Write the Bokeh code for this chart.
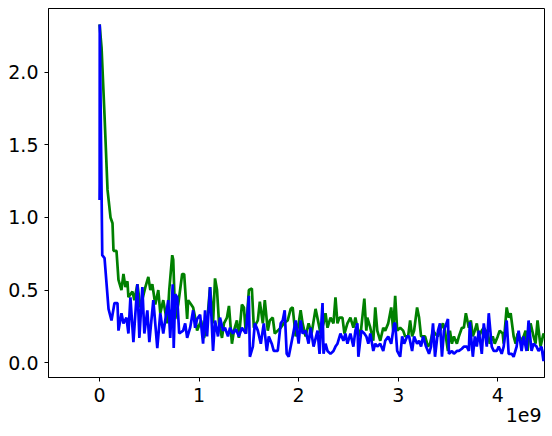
from bokeh.plotting import figure
from bokeh.models import Range1d, FixedTicker, NumeralTickFormatter, CustomJSTickFormatter, Title
from bokeh.embed import file_html
from bokeh.resources import INLINE

# x positions in billions of steps
green_x = [0, 0.02, 0.05, 0.08, 0.11, 0.13, 0.14, 0.17, 0.19, 0.22, 0.24, 0.26, 0.28, 0.29, 0.33, 0.35,
           0.38, 0.41, 0.46, 0.49, 0.51, 0.53, 0.56, 0.59, 0.61, 0.64, 0.68, 0.70, 0.73, 0.74, 0.76, 0.79,
           0.83, 0.85, 0.88, 0.89, 0.92, 0.94, 0.96, 0.98, 1.02, 1.05, 1.08, 1.11, 1.14, 1.16, 1.18, 1.20,
           1.23, 1.25, 1.28, 1.30, 1.33, 1.35, 1.38, 1.40, 1.43, 1.45, 1.47, 1.50, 1.53, 1.55, 1.59, 1.61,
           1.64, 1.66, 1.69, 1.71, 1.74, 1.76, 1.79, 1.82, 1.85, 1.89, 1.92, 1.94, 1.97, 2.00, 2.02, 2.04,
           2.07, 2.10, 2.13, 2.17, 2.20, 2.22, 2.25, 2.27, 2.29, 2.32, 2.35, 2.37, 2.39, 2.41, 2.44, 2.46,
           2.49, 2.52, 2.55, 2.57, 2.59, 2.62, 2.66, 2.68, 2.69, 2.72, 2.75, 2.77, 2.79, 2.82, 2.85, 2.87,
           2.90, 2.93, 2.95, 2.97, 2.99, 3.02, 3.05, 3.07, 3.10, 3.12, 3.14, 3.16, 3.19, 3.21, 3.23, 3.25,
           3.27, 3.30, 3.32, 3.35, 3.37, 3.40, 3.42, 3.45, 3.47, 3.50, 3.52, 3.54, 3.56, 3.59, 3.61, 3.64,
           3.66, 3.68, 3.71, 3.73, 3.75, 3.77, 3.79, 3.81, 3.84, 3.86, 3.90, 3.92, 3.95, 3.97, 4.00, 4.02,
           4.05, 4.06, 4.09, 4.11, 4.13, 4.16, 4.18, 4.20, 4.23, 4.26, 4.28, 4.30, 4.33, 4.36, 4.38, 4.40,
           4.43, 4.46, 4.49]
green_y = [2.33, 2.17, 1.70, 1.19, 1.00, 0.96, 0.77, 0.77, 0.57, 0.50, 0.61, 0.52, 0.56, 0.45, 0.49, 0.43,
           0.54, 0.38, 0.52, 0.59, 0.50, 0.54, 0.40, 0.50, 0.34, 0.43, 0.27, 0.50, 0.74, 0.71, 0.30, 0.40,
           0.61, 0.61, 0.30, 0.43, 0.40, 0.38, 0.31, 0.22, 0.29, 0.17, 0.27, 0.52, 0.27, 0.58, 0.50, 0.27,
           0.17, 0.27, 0.31, 0.39, 0.13, 0.22, 0.29, 0.17, 0.40, 0.38, 0.20, 0.50, 0.51, 0.24, 0.29, 0.42,
           0.27, 0.43, 0.22, 0.29, 0.31, 0.20, 0.22, 0.24, 0.27, 0.29, 0.37, 0.38, 0.18, 0.27, 0.36, 0.27,
           0.18, 0.27, 0.20, 0.37, 0.27, 0.20, 0.27, 0.34, 0.24, 0.31, 0.27, 0.45, 0.27, 0.31, 0.31, 0.20,
           0.27, 0.31, 0.24, 0.31, 0.24, 0.18, 0.44, 0.22, 0.31, 0.24, 0.15, 0.38, 0.22, 0.15, 0.24, 0.22,
           0.27, 0.38, 0.22, 0.46, 0.22, 0.24, 0.22, 0.18, 0.18, 0.29, 0.18, 0.22, 0.38, 0.31, 0.18, 0.18,
           0.18, 0.11, 0.13, 0.22, 0.20, 0.18, 0.22, 0.27, 0.22, 0.08, 0.22, 0.13, 0.18, 0.13, 0.18, 0.24,
           0.24, 0.34, 0.24, 0.29, 0.18, 0.22, 0.27, 0.18, 0.22, 0.24, 0.20, 0.13, 0.18, 0.13, 0.18, 0.22,
           0.20, 0.13, 0.38, 0.31, 0.34, 0.18, 0.13, 0.20, 0.15, 0.18, 0.22, 0.08, 0.27, 0.18, 0.13, 0.29,
           0.11, 0.20, 0.15]

blue_x = [0, 0.001, 0.002, 0.027, 0.05, 0.09, 0.12, 0.15, 0.18, 0.19, 0.22, 0.24, 0.27, 0.29, 0.31, 0.34,
          0.38, 0.40, 0.43, 0.45, 0.48, 0.50, 0.54, 0.58, 0.61, 0.64, 0.69, 0.71, 0.735, 0.745, 0.76, 0.78,
          0.80, 0.84, 0.86, 0.88, 0.91, 0.94, 0.96, 0.98, 1.01, 1.04, 1.06, 1.08, 1.11, 1.14, 1.16, 1.19,
          1.21, 1.24, 1.26, 1.29, 1.31, 1.34, 1.37, 1.40, 1.43, 1.45, 1.47, 1.50, 1.51, 1.54, 1.56, 1.59,
          1.62, 1.65, 1.68, 1.70, 1.73, 1.75, 1.79, 1.82, 1.84, 1.86, 1.88, 1.90, 1.94, 1.97, 2.00, 2.02,
          2.04, 2.07, 2.10, 2.12, 2.15, 2.19, 2.21, 2.24, 2.25, 2.27, 2.29, 2.32, 2.35, 2.37, 2.39, 2.42,
          2.45, 2.47, 2.49, 2.52, 2.55, 2.57, 2.59, 2.60, 2.63, 2.66, 2.68, 2.70, 2.72, 2.75, 2.77, 2.79,
          2.82, 2.85, 2.87, 2.90, 2.93, 2.96, 2.97, 2.99, 3.02, 3.04, 3.06, 3.09, 3.11, 3.14, 3.16, 3.19,
          3.21, 3.23, 3.25, 3.28, 3.31, 3.33, 3.35, 3.37, 3.40, 3.42, 3.44, 3.46, 3.50, 3.51, 3.54, 3.56,
          3.59, 3.61, 3.64, 3.66, 3.69, 3.71, 3.72, 3.75, 3.77, 3.79, 3.81, 3.84, 3.86, 3.89, 3.91, 3.94,
          3.96, 3.99, 4.01, 4.04, 4.06, 4.09, 4.11, 4.14, 4.16, 4.19, 4.21, 4.24, 4.26, 4.29, 4.31, 4.34,
          4.36, 4.39, 4.41, 4.44, 4.46, 4.49]
blue_y = [1.12, 1.24, 2.33, 0.74, 0.72, 0.37, 0.29, 0.41, 0.41, 0.22, 0.34, 0.27, 0.31, 0.20, 0.45, 0.14,
          0.54, 0.17, 0.52, 0.20, 0.36, 0.14, 0.43, 0.10, 0.34, 0.20, 0.43, 0.17, 0.54, 0.10, 0.47, 0.45,
          0.20, 0.22, 0.27, 0.17, 0.24, 0.36, 0.24, 0.30, 0.33, 0.13, 0.36, 0.18, 0.52, 0.08, 0.29, 0.18,
          0.31, 0.22, 0.24, 0.18, 0.24, 0.20, 0.23, 0.18, 0.24, 0.22, 0.20, 0.46, 0.04, 0.11, 0.27, 0.22,
          0.13, 0.27, 0.08, 0.18, 0.13, 0.08, 0.08, 0.27, 0.29, 0.36, 0.06, 0.04, 0.18, 0.29, 0.13, 0.29,
          0.20, 0.22, 0.13, 0.24, 0.11, 0.22, 0.06, 0.41, 0.06, 0.13, 0.08, 0.06, 0.08, 0.11, 0.13, 0.20,
          0.15, 0.20, 0.13, 0.20, 0.11, 0.22, 0.27, 0.04, 0.22, 0.20, 0.18, 0.13, 0.20, 0.08, 0.13, 0.11,
          0.13, 0.08, 0.15, 0.18, 0.13, 0.27, 0.27, 0.08, 0.04, 0.18, 0.13, 0.18, 0.18, 0.08, 0.18, 0.13,
          0.15, 0.11, 0.18, 0.11, 0.06, 0.11, 0.27, 0.04, 0.22, 0.27, 0.04, 0.22, 0.30, 0.06, 0.08, 0.06,
          0.08, 0.08, 0.095, 0.11, 0.11, 0.08, 0.28, 0.04, 0.18, 0.11, 0.22, 0.06, 0.27, 0.11, 0.34, 0.11,
          0.08, 0.08, 0.11, 0.06, 0.11, 0.29, 0.06, 0.06, 0.04, 0.11, 0.22, 0.08, 0.18, 0.08, 0.29, 0.08,
          0.13, 0.11, 0.08, 0.11, 0.01, 0.15]

x_ticks = [0, 1e9, 2e9, 3e9, 4e9]
y_ticks = [0.0, 0.5, 1.0, 1.5, 2.0]
offset_text = "1e9"
FONT = "DejaVu Sans"

p = figure(width=552, height=436, output_backend="svg", toolbar_location=None,
           x_range=Range1d(-0.513e9, 4.47e9), y_range=Range1d(-0.103, 2.44),
           min_border_left=48, min_border_right=8, min_border_top=8, min_border_bottom=59)
p.xgrid.visible = False
p.ygrid.visible = False
p.outline_line_color = "black"
p.outline_line_width = 1
p.background_fill_color = "white"
p.border_fill_color = "white"

p.line([v * 1e9 for v in green_x], green_y, line_color="#008000", line_width=2.7)
p.line([v * 1e9 for v in blue_x], blue_y, line_color="#0000ff", line_width=2.7)

for ax in (p.xaxis[0], p.yaxis[0]):
    ax.axis_line_color = "black"
    ax.major_tick_line_color = "black"
    ax.major_tick_out = 4
    ax.major_tick_in = 0
    ax.minor_tick_line_color = None
    ax.major_label_text_font = FONT
    ax.major_label_text_font_size = "19px"
    ax.major_label_text_color = "black"

p.xaxis.ticker = FixedTicker(ticks=x_ticks)
p.xaxis.formatter = CustomJSTickFormatter(code="return (tick / 1e9).toFixed(0);")
p.xaxis.major_label_standoff = 6
p.yaxis.ticker = FixedTicker(ticks=y_ticks)
p.yaxis.formatter = NumeralTickFormatter(format="0.0")
p.yaxis.major_label_standoff = 6

offset_title = Title(text=offset_text, align="right", offset=3, standoff=2,
                     text_font=FONT, text_font_size="19px", text_font_style="normal",
                     text_color="black")
p.add_layout(offset_title, "below")

open("out.html", "w").write(file_html(p, INLINE))
